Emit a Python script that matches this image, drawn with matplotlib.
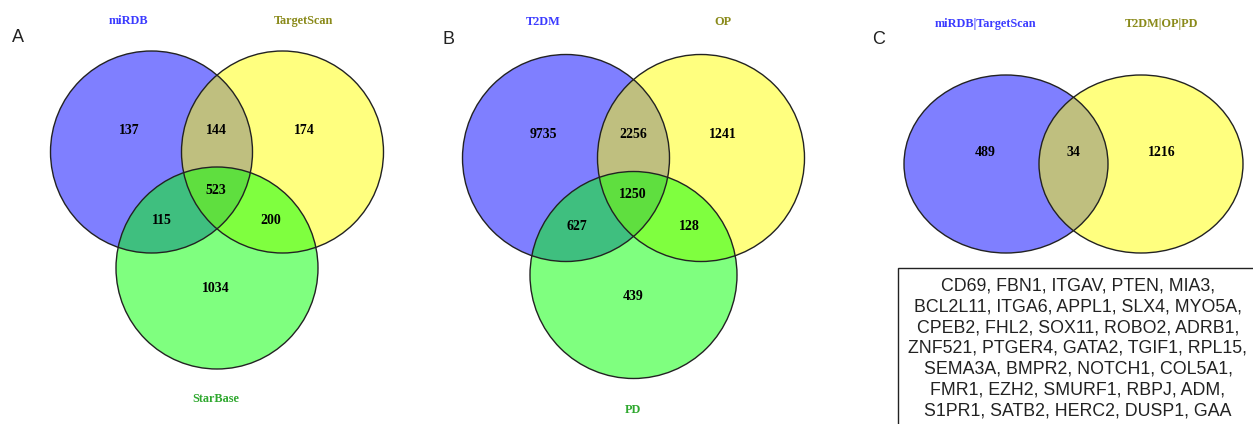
import matplotlib
matplotlib.use("Agg")
import matplotlib.pyplot as plt
from matplotlib.patches import Circle, Ellipse, Rectangle

# ---- data ----
setsA = ["miRDB", "TargetScan", "StarBase"]
countsA = {"100": 137, "110": 144, "010": 174, "111": 523, "101": 115, "011": 200, "001": 1034}
setsB = ["T2DM", "OP", "PD"]
countsB = {"100": 9735, "110": 2256, "010": 1241, "111": 1250, "101": 627, "011": 128, "001": 439}
setsC = ["miRDB|TargetScan", "T2DM|OP|PD"]
countsC = {"10": 489, "11": 34, "01": 1216}
genes = ["CD69", "FBN1", "ITGAV", "PTEN", "MIA3",
         "BCL2L11", "ITGA6", "APPL1", "SLX4", "MYO5A",
         "CPEB2", "FHL2", "SOX11", "ROBO2", "ADRB1",
         "ZNF521", "PTGER4", "GATA2", "TGIF1", "RPL15",
         "SEMA3A", "BMPR2", "NOTCH1", "COL5A1",
         "FMR1", "EZH2", "SMURF1", "RBPJ", "ADM",
         "S1PR1", "SATB2", "HERC2", "DUSP1", "GAA"]
gene_rows = [5, 5, 5, 5, 4, 5, 5]

fill_cols = ["#0000ff", "#ffff00", "#00ff00"]
label_cols = ["#3b3bff", "#8a8a1a", "#2fa82f"]

W, H = 1253, 424
fig = plt.figure(figsize=(W / 100, H / 100), dpi=100)
ax = fig.add_axes([0, 0, 1, 1])
ax.set_xlim(0, W)
ax.set_ylim(H, 0)
ax.axis("off")

num_font = dict(family="Liberation Serif", fontweight="bold", fontsize=10, ha="center", va="center", color="black")
lab_font = dict(family="Liberation Serif", fontweight="bold", fontsize=8.8, ha="center", va="center")


def venn3(cx, cy, r, dx, dy_top, dy_bot, sets, counts, label_pos, count_pos):
    centers = [(cx - dx, cy + dy_top), (cx + dx, cy + dy_top), (cx, cy + dy_bot)]
    for (x, y), c in zip(centers, fill_cols):
        ax.add_patch(Circle((x, y), r, facecolor=c, alpha=0.5, edgecolor="none"))
    for (x, y) in centers:
        ax.add_patch(Circle((x, y), r, facecolor="none", edgecolor="#222222", lw=1.0))
    for name, (lx, ly), col in zip(sets, label_pos, label_cols):
        ax.text(lx, ly, name, color=col, **lab_font)
    for key, (px, py) in count_pos.items():
        ax.text(px, py, str(counts[key]), **num_font)


# Panel A
venn3(217, 190, 101, 65.5, -38, 78, setsA, countsA,
      [(128, 21), (303, 21), (216, 399)],
      {"100": (129, 131), "110": (216, 131), "010": (304, 131), "111": (216, 190),
       "101": (162, 220), "011": (271, 220), "001": (216, 288)})

# Panel B
venn3(633.5, 197, 103.5, 67.5, -39, 78, setsB, countsB,
      [(543, 22), (723, 22), (633, 410)],
      {"100": (543, 135), "110": (633, 135), "010": (723, 135), "111": (633, 195),
       "101": (577, 227), "011": (689, 227), "001": (633, 296)})

# Panel C
c_centers = [(1006, 164), (1141, 164)]
for (x, y), c in zip(c_centers, fill_cols[:2]):
    ax.add_patch(Ellipse((x, y), 204, 178, facecolor=c, alpha=0.5, edgecolor="none"))
for (x, y) in c_centers:
    ax.add_patch(Ellipse((x, y), 204, 178, facecolor="none", edgecolor="#222222", lw=1.0))
for name, (lx, ly), col in zip(setsC, [(985, 24), (1162, 24)], label_cols[:2]):
    ax.text(lx, ly, name, color=col, **lab_font)
for key, (px, py) in {"10": (985, 152), "11": (1073, 152), "01": (1162, 152)}.items():
    ax.text(px, py, str(countsC[key]), **num_font)

# panel letters
for letter, (x, y) in zip("ABC", [(18, 37), (449, 39), (879, 40)]):
    ax.text(x, y, letter, family="Liberation Sans", fontsize=13, ha="center", va="center", color="#222222")

# gene box
ax.add_patch(Rectangle((898, 268), 400, 200, facecolor="white", edgecolor="#222222", lw=1.0))
lines = []
i = 0
for n in gene_rows:
    chunk = genes[i:i + n]
    i += n
    s = ", ".join(chunk)
    if i < len(genes):
        s += ","
    lines.append(s)
for k, s in enumerate(lines):
    ax.text(1078, 286 + k * 20.8, s, family="Liberation Sans", fontsize=12.8,
            ha="center", va="center", color="#222222")

fig.savefig("out.png", dpi=100)
